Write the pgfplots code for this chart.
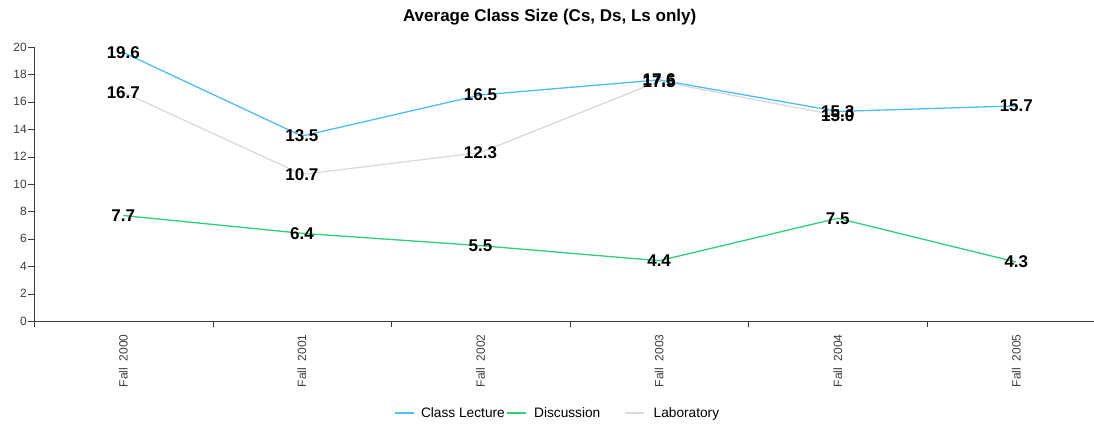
\documentclass[border=0pt]{standalone}
\usepackage{pgfplots}
\pgfplotsset{compat=1.18}
\usepackage{fontspec}
\setmainfont{Liberation Sans}
\definecolor{cblue}{RGB}{77,190,245}
\definecolor{cgreen}{RGB}{46,208,120}
\definecolor{cgray}{RGB}{218,218,218}
\definecolor{axgray}{RGB}{60,60,60}
\begin{document}
\begin{tikzpicture}
\useasboundingbox (-34pt,-105pt) rectangle (1060pt,321pt);
\begin{axis}[
  at={(0pt,0pt)}, anchor=south west,
  scale only axis, width=1060pt, height=274pt,
  xmin=-0.5, xmax=5.435, ymin=0, ymax=20,
  axis lines=left, axis line style={-, draw=axgray},
  tick align=outside, major tick length=6pt,
  tick style={draw=axgray},
  ytick={0,2,...,20},
  yticklabel style={font=\fontsize{12}{14}\selectfont, text=axgray, inner sep=1pt},
  /pgf/number format/assume math mode=true,
  xtick={-0.5,0.5,1.5,2.5,3.5,4.5},
  xticklabels={},
  extra x ticks={0,1,2,3,4,5},
  extra x tick labels={Fall\ \ 2000,Fall\ \ 2001,Fall\ \ 2002,Fall\ \ 2003,Fall\ \ 2004,Fall\ \ 2005},
  extra x tick style={major tick length=0pt, xticklabel style={rotate=90, anchor=east, font=\fontsize{12}{14}\selectfont, text=axgray, xshift=-10pt}},
  title={\bfseries Average Class Size (Cs, Ds, Ls only)},
  title style={font=\fontsize{17}{19}\selectfont, at={(0.4865,1)}, yshift=24pt, anchor=center},
  legend style={at={(0.4943,-0.336)}, anchor=center, draw=none, font=\fontsize{13.7}{15}\selectfont, legend columns=3,
    /tikz/column 1/.style={column sep=4pt},
    /tikz/column 2/.style={column sep=0pt},
    /tikz/column 3/.style={column sep=5pt},
    /tikz/column 4/.style={column sep=22pt},
    /tikz/column 5/.style={column sep=7pt}},
  legend image code/.code={\draw[#1] (0pt,0pt) -- (19pt,0pt);},
  nodes near coords, point meta=explicit symbolic,
  every node near coord/.append style={font=\fontsize{17}{18}\selectfont\bfseries, text=black, anchor=center, yshift=0pt},
  clip=false,
]
\addplot[cblue, line width=1.3pt] coordinates {(0,19.6)[19.6] (1,13.5)[13.5] (2,16.5)[16.5] (3,17.6)[17.6] (4,15.3)[15.3] (5,15.7)[15.7]};
\addlegendentry{Class Lecture}
\addplot[cgreen, line width=1.3pt] coordinates {(0,7.7)[7.7] (1,6.4)[6.4] (2,5.5)[5.5] (3,4.4)[4.4] (4,7.5)[7.5] (5,4.3)[4.3]};
\addlegendentry{Discussion}
\addplot[cgray, line width=1.3pt] coordinates {(0,16.7)[16.7] (1,10.7)[10.7] (2,12.3)[12.3] (3,17.5)[17.5] (4,15.0)[15.0]};
\addlegendentry{Laboratory}
\end{axis}
\end{tikzpicture}
\end{document}
